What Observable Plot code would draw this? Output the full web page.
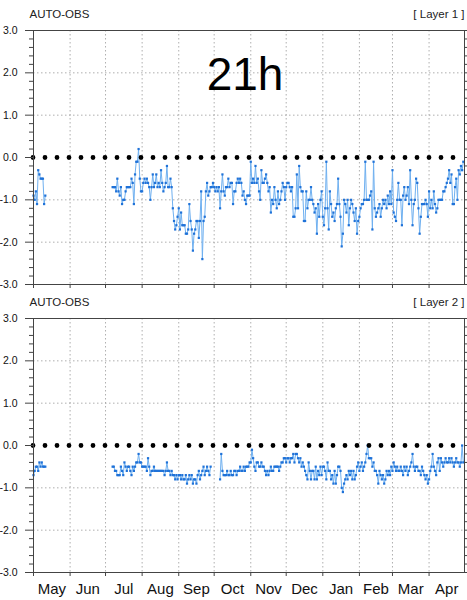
<!DOCTYPE html>
<html><head><meta charset="utf-8">
<script src="https://cdn.jsdelivr.net/npm/d3@7"></script>
<script src="https://cdn.jsdelivr.net/npm/@observablehq/plot@0.6"></script>
<style>
body{margin:0;background:#fff;}
#chart{position:relative;width:467px;height:600px;overflow:hidden;}
#chart svg{display:block;}
</style></head><body><div id="chart"></div>
<script>
// ---- data (daily values) ----
const monthLabels = ["May","Jun","Jul","Aug","Sep","Oct","Nov","Dec","Jan","Feb","Mar","Apr"];
const yTickValues = [-3,-2,-1,0,1,2,3];
const panelTitle = "21h";
const leftLabel = "AUTO-OBS";
const layerLabels = ["[ Layer 1 ]", "[ Layer 2 ]"];

// Layer 1 segments
const layer1Starts = ["2018-05-01", "2018-07-07"];
const layer1May = [-0.9,-1.0,-0.8,-1.1,-0.3,-0.4,-0.5,-0.5,-0.5,-1.1,-0.9];
const layer1Main = [
  // Jul 7-31
  -0.7,-0.7,-0.7,-0.8,-0.5,-0.8,-0.9,-0.7,-1.1,-1.0,
  -1.0,-0.8,-0.7,-0.7,-0.7,-0.7,-0.5,-0.6,-1.1,-0.4,
  -0.1,-0.1,0.2,-0.5,-0.8,
  // Aug
  -0.8,-0.6,-0.5,-0.6,-0.5,-0.6,-0.7,-1.0,-0.7,-0.4,
  -0.7,-0.6,-0.4,-0.7,-0.6,-0.7,-0.3,-0.6,-0.8,-0.7,
  -0.6,-0.2,-0.7,-0.7,-0.5,-0.7,-1.2,-1.5,-1.7,-1.6,
  -1.4,
  // Sep
  -1.2,-1.7,-1.3,-1.6,-1.6,-1.6,-1.8,-1.8,-1.7,-1.1,
  -1.5,-1.7,-2.2,-1.8,-1.7,-1.5,-1.5,-1.9,-1.5,-0.8,
  -2.4,-1.5,-1.4,-0.8,-0.6,-0.9,-0.8,-0.7,-0.7,-0.6,
  // Oct
  -0.7,-0.8,-0.7,-0.8,-0.7,-1.2,-0.8,-0.4,-0.8,-0.9,
  -0.7,-0.7,-0.5,-0.7,-0.6,-0.6,-1.1,-0.8,-0.8,-0.6,
  -0.5,-0.6,-0.5,-0.6,-0.9,-0.8,-1.0,-1.1,-0.9,-0.9,
  -0.9,
  // Nov
  -0.1,-0.6,-0.5,-0.6,-0.2,-0.6,-0.5,-0.8,-1.0,-0.3,
  -0.6,-0.6,-0.5,-0.4,-0.6,-0.8,-0.7,-1.3,-1.0,-1.1,
  -0.7,-1.0,-1.2,-0.8,-1.1,-1.0,-0.8,-0.6,-0.7,-1.0,
  // Dec
  -0.7,-0.6,-0.6,-0.7,-0.8,-0.7,-1.4,-1.4,-1.2,-0.4,
  -1.2,-0.2,-0.7,-0.8,-0.8,-1.5,-1.5,-0.8,-1.2,-1.0,
  -1.0,-0.7,-1.0,-1.1,-1.3,-1.2,-1.8,-1.1,-1.4,-1.0,
  -0.8,
  // Jan
  -1.4,-1.6,-1.2,-0.1,-1.2,-1.7,-0.8,-1.1,-1.4,-1.3,
  -1.5,-1.2,-1.1,-0.5,-1.1,-1.4,-2.1,-1.8,-1.0,-1.1,
  -1.3,-1.0,-1.6,-1.2,-1.0,-1.1,-1.3,-1.5,-1.2,-1.8,
  -1.5,
  // Feb
  -1.4,-1.2,-1.1,-1.1,-1.0,-0.1,-1.0,-1.0,-1.0,-0.9,
  -0.8,-1.7,-0.1,-1.2,-1.4,-1.3,-1.2,-1.1,-1.4,-1.2,
  -1.0,-1.1,-1.0,-1.2,-0.9,-1.1,-0.8,-1.1,
  // Mar
  -0.3,-1.3,-1.4,-1.5,-1.0,-0.6,-1.0,-1.0,-1.6,-0.9,
  -0.7,-1.0,-0.9,-0.7,-1.1,-0.3,-1.0,-1.6,-1.1,-1.0,
  -0.5,-0.6,-1.2,-1.8,-1.4,-1.1,-1.1,-1.1,-1.0,-1.1,
  -1.4,
  // Apr
  -0.8,-1.2,-1.0,-1.2,-0.8,-1.1,-1.3,-1.2,-1.0,-1.0,
  -1.0,-1.0,-0.8,-0.8,-0.7,-0.6,-0.5,-0.3,-0.6,-0.4,
  -1.1,-1.1,-0.7,-0.5,-1.0,-0.3,-0.4,-0.2,-0.3,-0.1
];

// Layer 2 segments
const layer2Starts = ["2018-05-01", "2018-07-07", "2018-10-06"];
const layer2May = [-0.7,-0.6,-0.5,-0.5,-0.6,-0.4,-0.5,-0.4,-0.5,-0.5,-0.5];
const layer2Summer = [
  // Jul 7-31
  -0.5,-0.5,-0.6,-0.6,-0.7,-0.7,-0.7,-0.5,-0.6,-0.7,
  -0.4,-0.5,-0.6,-0.5,-0.5,-0.6,-0.7,-0.5,-0.6,-0.5,
  -0.4,-0.4,-0.2,-0.4,-0.4,
  // Aug
  -0.5,-0.5,-0.5,-0.5,-0.6,-0.3,-0.5,-0.7,-0.6,-0.6,
  -0.5,-0.6,-0.6,-0.6,-0.6,-0.6,-0.6,-0.6,-0.6,-0.7,
  -0.6,-0.4,-0.6,-0.6,-0.7,-0.6,-0.7,-0.7,-0.8,-0.7,
  -0.8,
  // Sep 1-28
  -0.7,-0.7,-0.8,-0.7,-0.8,-0.8,-0.7,-0.9,-0.8,-0.7,
  -0.8,-0.7,-0.9,-0.8,-0.8,-0.9,-0.7,-0.6,-0.8,-0.7,
  -0.6,-0.5,-0.7,-0.6,-0.5,-0.6,-0.7,-0.5
];
const layer2Winter = [
  // Oct 6-31
  -0.8,-0.2,-0.6,-0.7,-0.7,-0.7,-0.6,-0.7,-0.7,-0.6,
  -0.7,-0.7,-0.6,-0.6,-0.7,-0.6,-0.6,-0.5,-0.6,-0.6,
  -0.5,-0.6,-0.5,-0.5,-0.5,-0.4,
  // Nov
  -0.4,-0.1,-0.3,-0.5,-0.6,-0.4,-0.4,-0.5,-0.5,-0.4,
  -0.5,-0.5,-0.6,-0.7,-0.6,-0.7,-0.6,-0.5,-0.6,-0.6,
  -0.5,-0.5,-0.5,-0.5,-0.6,-0.5,-0.4,-0.4,-0.3,-0.3,
  // Dec
  -0.4,-0.3,-0.3,-0.4,-0.3,-0.3,-0.2,-0.4,-0.2,-0.2,
  -0.3,-0.4,-0.3,-0.5,-0.4,-0.5,-0.6,-0.7,-0.8,-0.4,
  -0.6,-0.8,-0.6,-0.6,-0.8,-0.5,-0.8,-0.6,-0.7,-0.5,
  -0.7,
  // Jan
  -0.5,-0.5,-0.6,-0.8,-0.4,-0.6,-0.6,-0.8,-0.7,-0.9,
  -0.6,-0.9,-0.7,-0.5,-0.5,-0.6,-1.0,-1.1,-0.9,-0.8,
  -0.7,-0.8,-0.6,-0.7,-0.6,-0.8,-0.6,-0.8,-0.7,-0.5,
  -0.4,
  // Feb
  -0.6,-0.5,-0.4,-0.6,-0.5,-0.4,-0.2,0.0,-0.3,-0.3,
  -0.3,-0.5,-0.4,-0.6,-0.6,-0.7,-0.9,-0.6,-0.7,-0.8,
  -0.7,-0.9,-0.8,-0.6,-0.7,-0.6,-0.7,-0.5,
  // Mar
  -0.6,-0.4,-0.5,-0.6,-0.5,-0.6,-0.6,-0.5,-0.6,-0.7,
  -0.5,-0.6,-0.5,-0.7,-0.6,-0.5,-0.4,-0.2,-0.5,-0.6,
  -0.5,-0.5,-0.6,-0.6,-0.7,-0.5,-0.6,-0.7,-0.8,-0.7,
  -0.9,
  // Apr
  -0.8,-0.6,-0.5,-0.2,-0.5,-0.6,-0.7,-0.4,-0.3,-0.6,
  -0.3,-0.4,-0.5,-0.4,-0.3,-0.4,-0.4,-0.3,-0.4,-0.3,
  -0.4,-0.5,-0.4,-0.3,-0.4,-0.4,-0.5,-0.4,0.0,-0.4
];

// ---- build tables ----
function rowsFrom(starts, segments) {
  const out = [];
  segments.forEach((vals, s) => {
    const t0 = new Date(starts[s] + "T00:00:00Z");
    vals.forEach((v, i) => out.push({date: d3.utcDay.offset(t0, i), value: v, seg: s}));
  });
  return out;
}
const rows1 = rowsFrom(layer1Starts, [layer1May, layer1Main]);
const rows2 = rowsFrom(layer2Starts, [layer2May, layer2Summer, layer2Winter]);

const FONT = "'Liberation Sans', Arial, Helvetica, sans-serif";
const xDomain = [new Date(Date.UTC(2018,4,1)), new Date(Date.UTC(2019,4,1))];
const monthStarts = d3.utcMonth.range(xDomain[0], xDomain[1]);
const innerMonths = monthStarts.slice(1);
const monthMids = monthStarts.map(d => new Date((+d + +d3.utcMonth.offset(d,1)) / 2));
const labelByTime = new Map(monthMids.map((d, i) => [+d, monthLabels[i]]));
const yMinor = d3.range(-30, 31, 2).map(v => v / 10).filter(v => !yTickValues.includes(v));

function panel({rows, layer, height, marginTop, marginBottom, showMonths, showTitle}) {
  const marks = [
    Plot.gridY([-2,-1,1,2], {stroke:"#9a9a9a", strokeOpacity:1, strokeWidth:0.8, strokeDasharray:"1.5,2.5"}),
    Plot.gridX(innerMonths, {stroke:"#9a9a9a", strokeOpacity:1, strokeWidth:0.8, strokeDasharray:"1.5,2.5"}),
    Plot.line(rows, {x:"date", y:"value", z:"seg", stroke:"#6fb0f0", strokeWidth:1}),
    Plot.dot(rows, {x:"date", y:"value", symbol:"square", r:1.25, fill:"#1f72d8", stroke:null}),
    Plot.ruleY([0], {stroke:"black", strokeWidth:4.8, strokeDasharray:"0,12", strokeLinecap:"round"}),
    Plot.frame({stroke:"#444", strokeWidth:1}),
    Plot.axisY(yTickValues, {anchor:"left", tickSize:8, tickPadding:8, tickFormat:d => d.toFixed(1), fontSize:10.5, fill:"#111", stroke:"#444", label:null}),
    Plot.axisY(yMinor, {anchor:"left", tickSize:4, tickFormat:() => "", stroke:"#444", label:null}),
    Plot.axisY(yTickValues, {anchor:"right", tickSize:8, tickFormat:() => "", stroke:"#444", label:null}),
    Plot.axisY(yMinor, {anchor:"right", tickSize:4, tickFormat:() => "", stroke:"#444", label:null}),
    Plot.axisX(monthStarts, {anchor:"bottom", tickSize:4, tickFormat:() => "", stroke:"#444", label:null}),
    Plot.text([leftLabel], {frameAnchor:"top-left", textAnchor:"start", lineAnchor:"bottom", dx:-4, dy:-12.5, fontSize:11.5, fill:"#222"}),
    Plot.text([layerLabels[layer]], {frameAnchor:"top-right", textAnchor:"end", lineAnchor:"bottom", dx:0, dy:-12.5, fontSize:11.5, fill:"#222"})
  ];
  if (showMonths) {
    marks.push(Plot.axisX(monthMids, {anchor:"bottom", tickSize:0, tickPadding:11, tickFormat:d => labelByTime.get(+d), fontSize:15, fill:"#111", label:null}));
  }
  if (showTitle) {
    marks.push(Plot.text([panelTitle], {frameAnchor:"top", lineAnchor:"bottom", dx:-4, dy:59, fontSize:46, fill:"#000"}));
  }
  return Plot.plot({
    width: 467, height, marginTop, marginBottom, marginLeft: 33, marginRight: 3,
    style: {fontFamily: FONT, background: "#fff", overflow: "visible"},
    x: {type: "utc", domain: xDomain},
    y: {domain: [-3, 3]},
    marks
  });
}

const root = document.getElementById("chart");
root.appendChild(panel({rows: rows1, layer: 0, height: 290, marginTop: 30, marginBottom: 6, showMonths: false, showTitle: true}));
root.appendChild(panel({rows: rows2, layer: 1, height: 310, marginTop: 28, marginBottom: 28, showMonths: true, showTitle: false}));
</script></body></html>
